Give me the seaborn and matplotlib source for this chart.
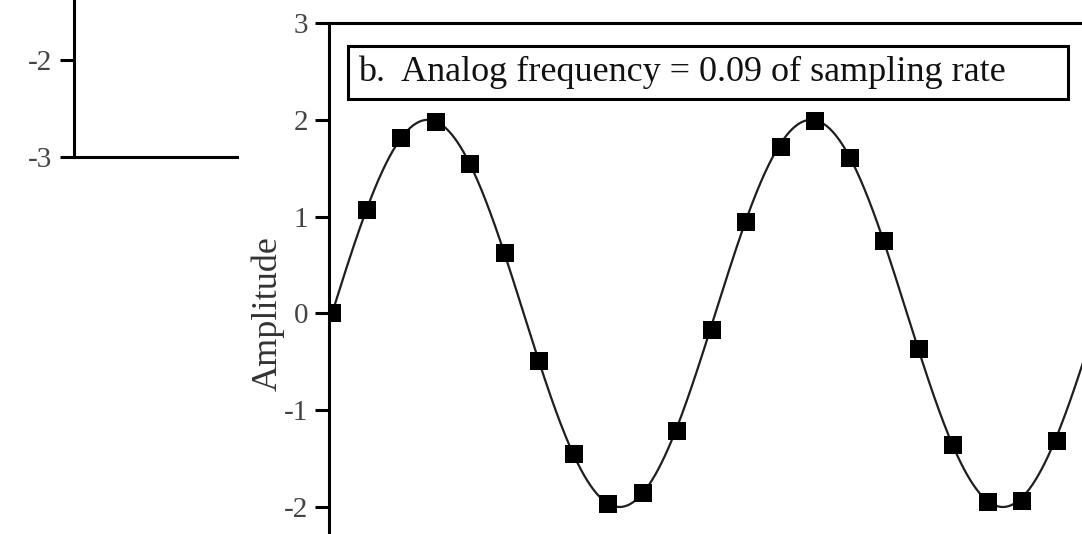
import numpy as np
import matplotlib
matplotlib.use("Agg")
import matplotlib.pyplot as plt
import seaborn as sns
from matplotlib.patches import Rectangle

# ---- data ----
sample_index = list(range(22))
sample_values = [0.0, 1.07, 1.81, 1.98, 1.54, 0.62, -0.49, -1.45, -1.97, -1.86,
                 -1.21, -0.17, 0.94, 1.72, 1.99, 1.61, 0.75, -0.37, -1.36, -1.95,
                 -1.94, -1.32]
analog_amplitude = 2.0
analog_frequency = 0.09          # cycles per sample (from the chart label)
yticks_main = [-2, -1, 0, 1, 2, 3]
yticks_left = [-3, -2]
title_text = "b.  Analog frequency = 0.09 of sampling rate"
ylabel_text = "Amplitude"

sns.set_theme(style="white")
plt.rcParams["font.family"] = ["Liberation Serif", "DejaVu Serif"]
plt.rcParams["axes.unicode_minus"] = False

W, H = 1082, 534
fig = plt.figure(figsize=(W / 100, H / 100), dpi=100)
fig.patch.set_facecolor("white")

def fx(px):
    return px / W

def fy(py):
    return 1 - py / H

spine_lw = 2.2
tick_color = "#444444"

# ---- partial chart "a" on the left ----
axl = fig.add_axes([fx(74), fy(157), fx(237) - fx(74), fy(157 - 6 * 97.5) - fy(157)])
axl.set_ylim(-3, 3)
axl.set_xlim(0, 1)
axl.set_yticks(yticks_left)
axl.set_yticklabels([str(v) for v in yticks_left])
axl.set_xticks([])
for s in ["top", "right"]:
    axl.spines[s].set_visible(False)
for s in ["left", "bottom"]:
    axl.spines[s].set_linewidth(spine_lw)
    axl.spines[s].set_color("black")
axl.tick_params(axis="y", direction="out", length=10, width=spine_lw, color="black",
                pad=6, labelsize=21, labelcolor=tick_color, left=True)
axl.set_facecolor("none")

# ---- main chart "b" ----
ax = fig.add_axes([fx(329), fy(23 + 6 * 96.8), fx(1090) - fx(329), fy(23) - fy(23 + 6 * 96.8)])
t = np.linspace(-0.2, 23, 1200)
curve = analog_amplitude * np.sin(2 * np.pi * analog_frequency * t)
sns.lineplot(x=t, y=curve, ax=ax, color="#1e1e1e", linewidth=1.6, sort=False)
sns.scatterplot(x=sample_index, y=sample_values, ax=ax, marker="s", s=155,
                color="black", edgecolor="black", linewidth=0, zorder=5)
ax.set_xlim(-3 / 34.5, (1090 - 332) / 34.5)
ax.set_ylim(-3, 3)
ax.set_yticks(yticks_main)
ax.set_yticklabels([str(v) for v in yticks_main])
ax.set_xticks([])
ax.spines["right"].set_visible(False)
ax.spines["bottom"].set_visible(False)
for s in ["left", "top"]:
    ax.spines[s].set_linewidth(spine_lw)
    ax.spines[s].set_color("black")
ax.tick_params(axis="y", direction="out", length=10, width=spine_lw, color="black",
               pad=5, labelsize=21, labelcolor=tick_color, left=True)
ax.set_ylabel(ylabel_text, fontsize=26, color="#333333")
ax.yaxis.set_label_coords((285 - 329) / (1090 - 329), 0.5)
ax.set_facecolor("none")

# title box
fig.patches.append(Rectangle((fx(348), fy(99)), fx(1068) - fx(348), fy(46) - fy(99),
                             transform=fig.transFigure, fill=False,
                             edgecolor="black", linewidth=spine_lw, zorder=10))
fig.text(fx(358), fy(81), title_text, fontsize=26, color="#111111",
         ha="left", va="baseline", zorder=11)

fig.savefig("out.png", dpi=100, facecolor="white")
